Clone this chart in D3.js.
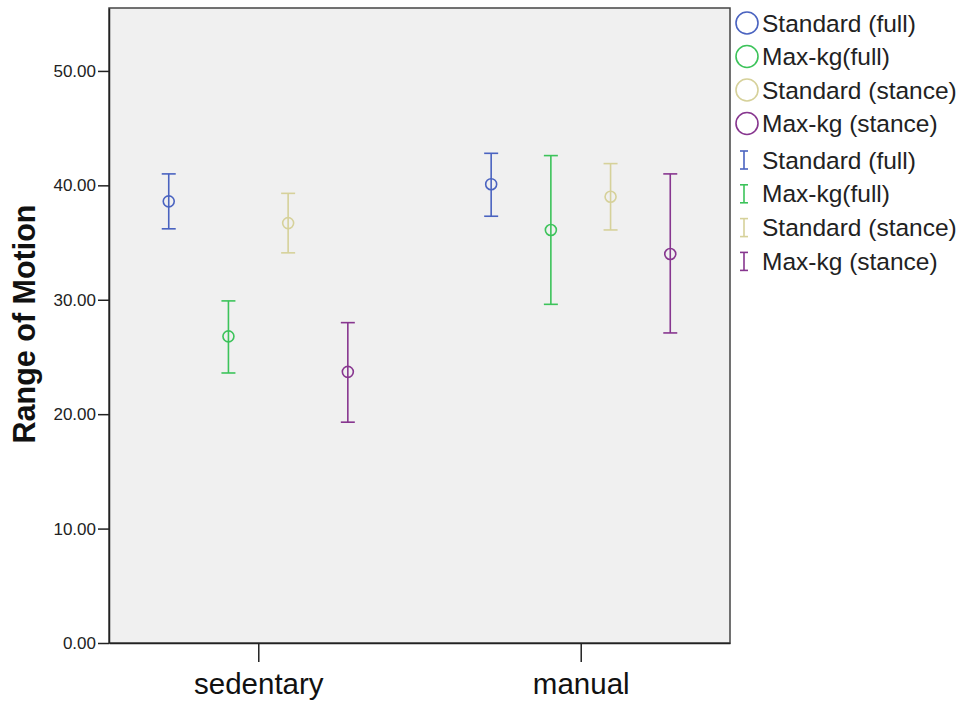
<!DOCTYPE html>
<html>
<head>
<meta charset="utf-8">
<script src="https://cdn.jsdelivr.net/npm/d3@7"></script>
<style>
  body { margin: 0; background: #fff; }
  svg { font-family: "Liberation Sans", Arial, sans-serif; }
</style>
</head>
<body>
<svg></svg>
<script>
// chart values
const groups = ["sedentary", "manual"];
const series = ["Standard (full)", "Max-kg(full)", "Standard (stance)", "Max-kg (stance)"];
const colors = ["#4a63c0", "#3cc35a", "#d6d19a", "#87368f"];

// mean, lower, upper per group, in series order
const means = [
  [38.6, 26.8, 36.7, 23.7],
  [40.1, 36.1, 39.0, 34.0]
];
const lows = [
  [36.2, 23.6, 34.1, 19.3],
  [37.3, 29.6, 36.1, 27.1]
];
const highs = [
  [41.0, 29.9, 39.3, 28.0],
  [42.8, 42.6, 41.9, 41.0]
];
const yTicks = [0, 10, 20, 30, 40, 50];

const width = 964;
const height = 702;
const plotLeft = 109, plotRight = 730, plotTop = 8, plotBottom = 643;

const data = [];
groups.forEach((g, gi) => {
  series.forEach((s, si) => {
    data.push({ group: g, series: s, color: colors[si],
                mean: means[gi][si], low: lows[gi][si], high: highs[gi][si] });
  });
});

const svg = d3.select("svg")
              .attr("width", width)
              .attr("height", height);

const yScale = d3.scaleLinear()
                 .domain([0, 55.5])
                 .range([plotBottom, plotTop]);

const xScale = d3.scalePoint()
                 .domain(groups)
                 .range([plotLeft, plotRight])
                 .padding(0.463);

const inner = d3.scaleBand()
                .domain(series)
                .range([-119.4, 119.4]);

const cx = d => xScale(d.group) + inner(d.series) + inner.bandwidth() / 2;

// plot background
svg.append("rect")
   .attr("x", plotLeft)
   .attr("y", plotTop)
   .attr("width", plotRight - plotLeft)
   .attr("height", plotBottom - plotTop)
   .attr("fill", "#f0f0f0")
   .attr("stroke", "#444")
   .attr("stroke-width", 1.5);

const yAxis = d3.axisLeft(yScale)
                .tickValues(yTicks)
                .tickFormat(d3.format(".2f"))
                .tickSize(11)
                .tickPadding(2)
                .tickSizeOuter(0);

const xAxis = d3.axisBottom(xScale)
                .tickSize(19)
                .tickPadding(11)
                .tickSizeOuter(0);

const gy = svg.append("g")
   .attr("transform", `translate(${plotLeft}, 0)`)
   .call(yAxis);
gy.select(".domain").attr("stroke", "#222").attr("stroke-width", 1.5);
gy.selectAll(".tick line").attr("stroke", "#222").attr("stroke-width", 1.5);
gy.selectAll(".tick text")
  .style("font-size", "17px")
  .attr("fill", "#222");

const gx = svg.append("g")
   .attr("transform", `translate(0, ${plotBottom})`)
   .call(xAxis);
gx.select(".domain").attr("stroke", "#222").attr("stroke-width", 1.5);
gx.selectAll(".tick line").attr("stroke", "#222").attr("stroke-width", 1.5);
gx.selectAll(".tick text")
  .style("font-size", "29.5px")
  .attr("fill", "#111");

svg.append("text")
   .attr("transform", "rotate(-90)")
   .attr("x", -324)
   .attr("y", 35)
   .style("text-anchor", "middle")
   .style("font-size", "30.5px")
   .style("font-weight", "bold")
   .attr("fill", "#111")
   .text("Range of Motion");

// error bars
const bars = svg.selectAll("g.bar")
  .data(data)
  .enter()
  .append("g")
    .attr("class", "bar")
    .attr("stroke", d => d.color)
    .attr("stroke-width", 1.6)
    .attr("fill", "none");

bars.append("line")
    .attr("x1", cx).attr("x2", cx)
    .attr("y1", d => yScale(d.high))
    .attr("y2", d => yScale(d.low));
bars.append("line")
    .attr("x1", d => cx(d) - 7).attr("x2", d => cx(d) + 7)
    .attr("y1", d => yScale(d.high)).attr("y2", d => yScale(d.high));
bars.append("line")
    .attr("x1", d => cx(d) - 7).attr("x2", d => cx(d) + 7)
    .attr("y1", d => yScale(d.low)).attr("y2", d => yScale(d.low));
bars.append("circle")
    .attr("cx", cx)
    .attr("cy", d => yScale(d.mean))
    .attr("r", 5.5);

// legend
const legendCircle = svg.selectAll("g.lc")
  .data(series)
  .enter()
  .append("g")
    .attr("class", "lc")
    .attr("transform", (d, i) => `translate(0, ${23 + i * 33.5})`);
legendCircle.append("circle")
    .attr("cx", 747)
    .attr("r", 11)
    .attr("fill", "none")
    .attr("stroke", (d, i) => colors[i])
    .attr("stroke-width", 1.6);
legendCircle.append("text")
    .attr("x", 762)
    .attr("dy", "0.35em")
    .style("font-size", "24.5px")
    .attr("fill", "#222")
    .text(d => d);

const legendBar = svg.selectAll("g.lb")
  .data(series)
  .enter()
  .append("g")
    .attr("class", "lb")
    .attr("transform", (d, i) => `translate(0, ${160 + i * 33.8})`)
    .attr("stroke", (d, i) => colors[i])
    .attr("stroke-width", 1.6);
legendBar.append("line")
    .attr("x1", 744).attr("x2", 744).attr("y1", -9).attr("y2", 9);
legendBar.append("line")
    .attr("x1", 740).attr("x2", 748).attr("y1", -9).attr("y2", -9);
legendBar.append("line")
    .attr("x1", 740).attr("x2", 748).attr("y1", 9).attr("y2", 9);
legendBar.append("text")
    .attr("x", 762)
    .attr("dy", "0.35em")
    .attr("stroke", "none")
    .style("font-size", "24.5px")
    .attr("fill", "#222")
    .text(d => d);
</script>
</body>
</html>
